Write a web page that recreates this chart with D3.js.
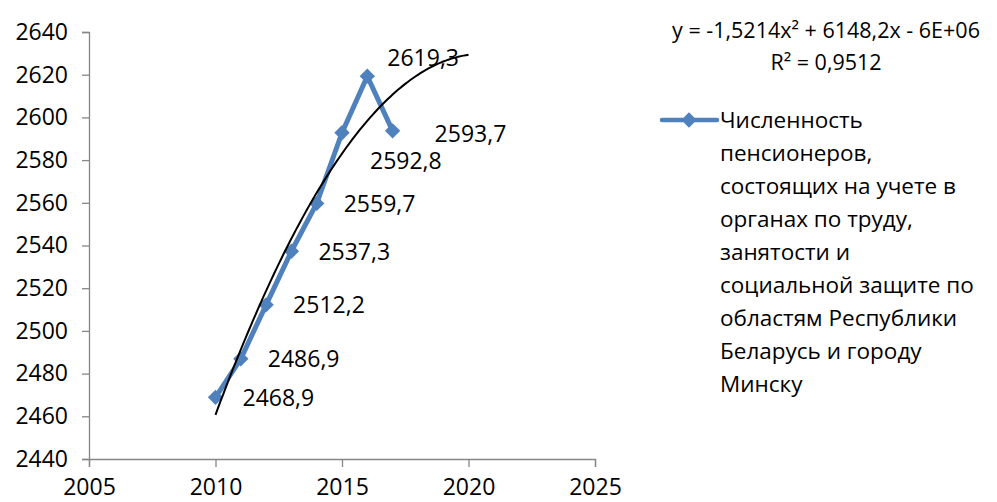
<!DOCTYPE html>
<html>
<head>
<meta charset="utf-8">
<script src="https://cdn.jsdelivr.net/npm/d3@7"></script>
<style>
	body { margin: 0; background: #fff; }
	text { font-family: "Open Sans", "Noto Sans", sans-serif; fill: #000; }
</style>
</head>
<body>
<div id="chart"></div>
<script>
var years = [2010, 2011, 2012, 2013, 2014, 2015, 2016, 2017];
var pensioners = [2468.9, 2486.9, 2512.2, 2537.3, 2559.7, 2592.8, 2619.3, 2593.7];
var xTicks = [2005, 2010, 2015, 2020, 2025];
var yTicks = [2440, 2460, 2480, 2500, 2520, 2540, 2560, 2580, 2600, 2620, 2640];
var equationText = ["y = -1,5214x² + 6148,2x - 6E+06", "R² = 0,9512"];
var legendLines = ["Численность", "пенсионеров,", "состоящих на учете в", "органах по труду,",
	"занятости и", "социальной защите по", "областям Республики", "Беларусь и городу", "Минску"];

var width = 997, height = 502;
var blue = "#4f81bd", axisColor = "#868686";
var font = "'Open Sans', 'Noto Sans', sans-serif";

var svg = d3.select("#chart").append("svg")
	.attr("width", width)
	.attr("height", height);

var x = d3.scaleLinear().domain([2005, 2025]).range([89, 595]);
var y = d3.scaleLinear().domain([2440, 2640]).range([459, 32]);

// axes
var yAxis = svg.append("g")
	.attr("transform", "translate(" + x(2005) + ",0)")
	.call(d3.axisLeft(y).tickValues(yTicks).tickSize(7).tickPadding(14).tickFormat(d3.format("d")));
var xAxis = svg.append("g")
	.attr("transform", "translate(0," + y(2440) + ")")
	.call(d3.axisBottom(x).tickValues(xTicks).tickSize(8).tickPadding(8).tickFormat(d3.format("d")));

[xAxis, yAxis].forEach(function(a) {
	a.select(".domain").attr("stroke", axisColor).attr("stroke-width", 1.3);
	a.selectAll(".tick line").attr("stroke", axisColor).attr("stroke-width", 1.3);
	a.selectAll(".tick text").style("font-size", "23px").style("font-family", font).attr("fill", "#000");
});
xAxis.selectAll(".tick text").attr("dy", "0.88em");

// polynomial (order 2) trendline, least squares like Excel
function fitQuadratic(xs, ys) {
	var n = xs.length, mx = d3.mean(xs);
	var t = xs.map(function(v) { return v - mx; });
	var s2 = d3.sum(t, function(v) { return v * v; });
	var s3 = d3.sum(t, function(v) { return v * v * v; });
	var s4 = d3.sum(t, function(v) { return v * v * v * v; });
	var sy = d3.sum(ys);
	var sty = d3.sum(t, function(v, i) { return v * ys[i]; });
	var st2y = d3.sum(t, function(v, i) { return v * v * ys[i]; });
	// solve 3x3 normal equations for a, b, c
	var m = [[s4, s3, s2, st2y], [s3, s2, 0, sty], [s2, 0, n, sy]];
	for (var i = 0; i < 3; i++) {
		for (var k = i + 1; k < 3; k++) {
			var f = m[k][i] / m[i][i];
			for (var j = i; j < 4; j++) m[k][j] -= f * m[i][j];
		}
	}
	var c = m[2][3] / m[2][2];
	var b = (m[1][3] - m[1][2] * c) / m[1][1];
	var a = (m[0][3] - m[0][1] * b - m[0][2] * c) / m[0][0];
	return function(xv) { var tv = xv - mx; return a * tv * tv + b * tv + c; };
}
var trend = fitQuadratic(years, pensioners);
var trendX = d3.range(2010, 2020.01, 0.1);

var line = d3.line()
	.x(function(d) { return x(d[0]); })
	.y(function(d) { return y(d[1]); });

// data line
svg.append("path")
	.datum(years.map(function(d, i) { return [d, pensioners[i]]; }))
	.attr("fill", "none")
	.attr("stroke", blue)
	.attr("stroke-width", 5)
	.attr("stroke-linejoin", "round")
	.attr("d", line);

var diamond = d3.symbol().type(d3.symbolDiamond2).size(150);
svg.selectAll(".marker")
	.data(years)
	.enter().append("path")
	.attr("class", "marker")
	.attr("transform", function(d, i) { return "translate(" + x(d) + "," + y(pensioners[i]) + ")"; })
	.attr("d", diamond)
	.attr("fill", blue);

// trendline
svg.append("path")
	.datum(trendX.map(function(d) { return [d, trend(d)]; }))
	.attr("fill", "none")
	.attr("stroke", "#000")
	.attr("stroke-width", 2)
	.attr("d", line);

// data labels (some moved by hand in the original)
var labelShift = { 2015: [28, 28], 2016: [20, -18], 2017: [42, 3] };
svg.selectAll(".dlabel")
	.data(years)
	.enter().append("text")
	.attr("class", "dlabel")
	.attr("x", function(d) { return x(d) + (labelShift[d] ? labelShift[d][0] : 27); })
	.attr("y", function(d, i) { return y(pensioners[i]) + (labelShift[d] ? labelShift[d][1] : 0); })
	.attr("dy", "0.36em")
	.style("font-size", "23px")
	.text(function(d, i) { return String(pensioners[i]).replace(".", ","); });

// equation
svg.selectAll(".eq")
	.data(equationText)
	.enter().append("text")
	.attr("class", "eq")
	.attr("x", 826)
	.attr("y", function(d, i) { return 30 + i * 32; })
	.attr("dy", "0.36em")
	.attr("text-anchor", "middle")
	.style("font-size", "21.5px")
	.text(function(d) { return d; });

// legend
var legend = svg.append("g").attr("transform", "translate(662,120)");
legend.append("line")
	.attr("x1", 0).attr("x2", 55)
	.attr("stroke", blue).attr("stroke-width", 4.5)
	.attr("stroke-linecap", "round");
legend.append("path")
	.attr("transform", "translate(27,0)")
	.attr("d", diamond)
	.attr("fill", blue);
legend.selectAll("text")
	.data(legendLines)
	.enter().append("text")
	.attr("x", 58)
	.attr("y", function(d, i) { return i * 33; })
	.attr("dy", "0.36em")
	.style("font-size", "22.5px")
	.text(function(d) { return d; });
</script>
</body>
</html>
